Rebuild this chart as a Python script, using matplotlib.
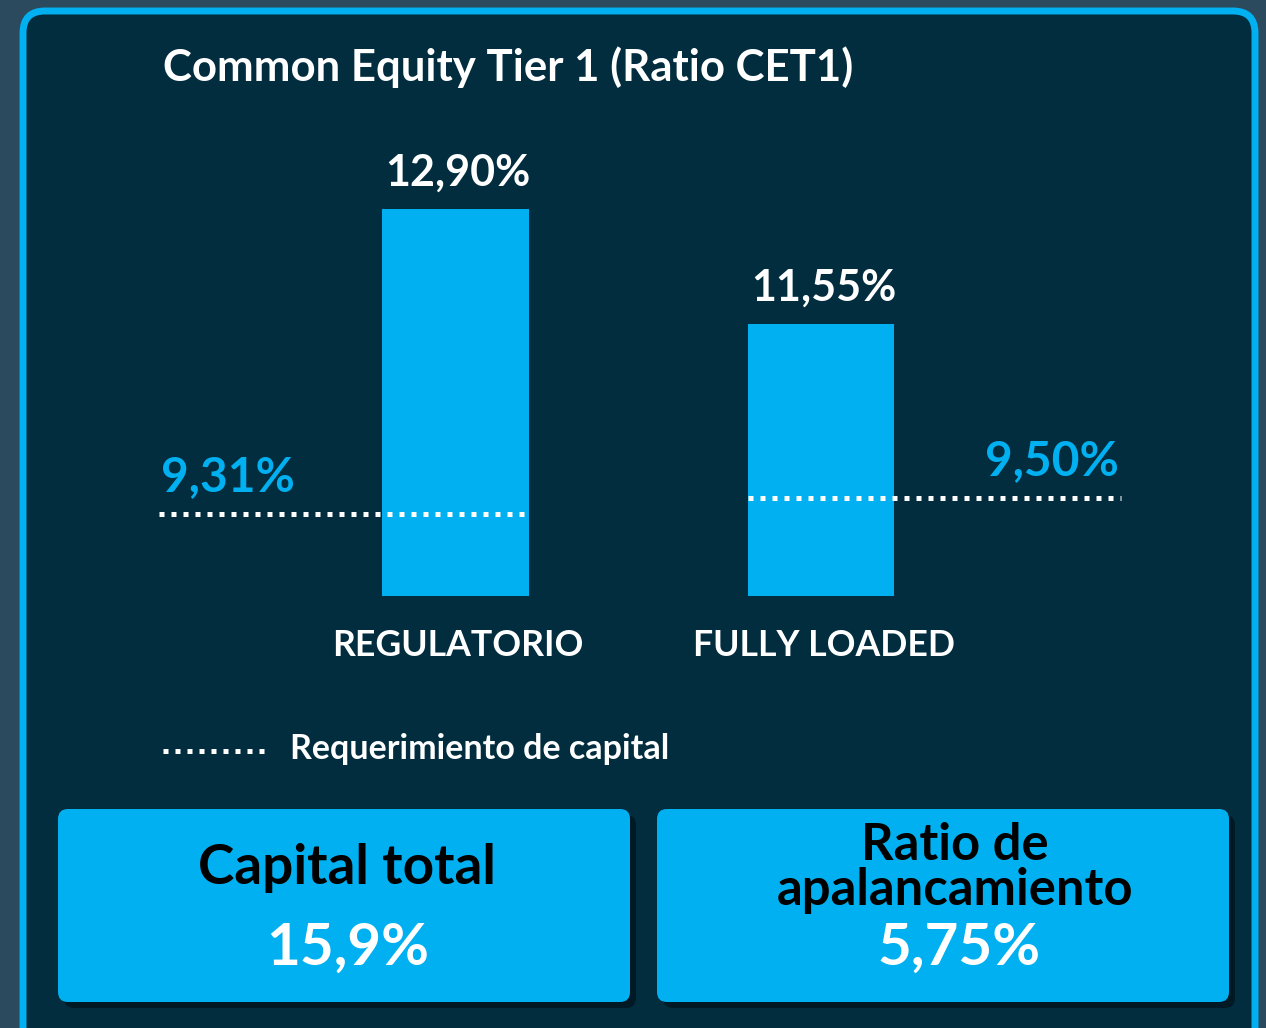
import numpy as np
import matplotlib.pyplot as plt
from matplotlib.patches import FancyBboxPatch

plt.rcParams['font.family'] = ['Lato', 'DejaVu Sans']
plt.rcParams['font.weight'] = 'bold'

# datos
categorias = ["REGULATORIO", "FULLY LOADED"]
cet1 = [12.90, 11.55]
etiquetas_cet1 = ["12,90%", "11,55%"]
requerimiento = [9.31, 9.50]
etiquetas_req = ["9,31%", "9,50%"]
cajas_titulo = ["Capital total", "Ratio de\napalancamiento"]
cajas_valor = ["15,9%", "5,75%"]

AZUL = '#00b0f0'
FONDO = '#022d3f'
W, H = 1266, 1028


def fx(px):
    return px / W


def fy(py):
    return 1 - py / H


fig = plt.figure(figsize=(W / 100, H / 100), dpi=100)
fig.patch.set_facecolor('#2c4a5e')

# capa de fondo en pixeles
bg = fig.add_axes([0, 0, 1, 1])
bg.set_xlim(0, W)
bg.set_ylim(H, 0)
bg.axis('off')

panel = FancyBboxPatch((23, 11), 1232, 1040, boxstyle="round,pad=0,rounding_size=22",
                       fc=FONDO, ec=AZUL, lw=5)
bg.add_patch(panel)

bg.text(163, 67, "Common Equity Tier 1 (Ratio CET1)", ha='left', va='center',
        fontsize=31.5, color='white', fontweight='bold')

# leyenda
bg.plot([163, 267], [751, 751], color='white', lw=3.6, ls=(0, (1, 1.4)),
        dash_capstyle='butt')
bg.text(290, 749, "Requerimiento de capital", ha='left', va='center',
        fontsize=24.5, color='white', fontweight='bold')

# cajas inferiores
cajas_x = [58, 657]
for i in range(2):
    x0 = cajas_x[i]
    sombra = FancyBboxPatch((x0 + 6, 815), 572, 193, boxstyle="round,pad=0,rounding_size=10",
                            fc='#00161f', ec='none', alpha=0.8)
    bg.add_patch(sombra)
    caja = FancyBboxPatch((x0, 809), 572, 193, boxstyle="round,pad=0,rounding_size=10",
                          fc=AZUL, ec='none')
    bg.add_patch(caja)

bg.text(347, 868, cajas_titulo[0], ha='center', va='center', fontsize=39.5,
        color='black', fontweight='bold')
lineas = cajas_titulo[1].split('\n')
for yy, ln in zip([846, 890], lineas):
    bg.text(955, yy, ln, ha='center', va='center', fontsize=36.5,
            color='black', fontweight='bold')
bg.text(348, 948, cajas_valor[0], ha='center', va='center', fontsize=42,
        color='white', fontweight='bold')
bg.text(959, 948, cajas_valor[1], ha='center', va='center', fontsize=42,
        color='white', fontweight='bold')

# grafico de barras
ax = fig.add_axes([fx(90), fy(596), fx(1186.5) - fx(90), fy(150) - fy(596)])
ax.patch.set_alpha(0)
ax.set_xlim(-1, 2)
ax.set_ylim(8.34, 13.6)
ax.axis('off')

x = np.arange(len(categorias))
ax.bar(x, cet1, width=0.402, color=AZUL, zorder=2)

for xi, v, t in zip(x, cet1, etiquetas_cet1):
    ax.annotate(t, (xi, v), xytext=(2, 17), textcoords='offset points',
                ha='center', va='baseline', fontsize=31, color='white', fontweight='bold')

for xi, t in zip(x, categorias):
    ax.annotate(t, (xi, 0), xycoords=('data', 'axes fraction'), xytext=(2, -36),
                textcoords='offset points', ha='center', va='center',
                fontsize=25.7, color='white', fontweight='bold')

tramos = [(-0.81, 0.20), (0.80, 1.82)]
alineacion = ['left', 'right']
for (a, b), v, t, al in zip(tramos, requerimiento, etiquetas_req, alineacion):
    ax.plot([a, b], [v, v], color='white', lw=3.6, ls=(0, (1, 1.4)),
            dash_capstyle='butt', zorder=3)
    xt = a + 0.005 if al == 'left' else b - 0.005
    ax.annotate(t, (xt, v), xytext=(0, 16), textcoords='offset points',
                ha=al, va='baseline', fontsize=34.5, color=AZUL, fontweight='bold')

fig.savefig('out.png', dpi=100, facecolor=fig.get_facecolor())
